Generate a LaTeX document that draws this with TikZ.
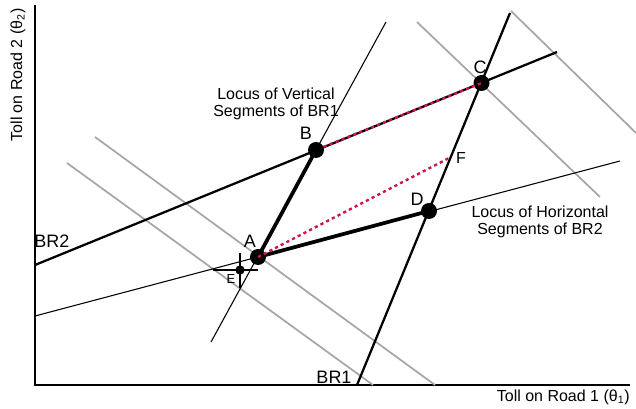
\documentclass[tikz,border=0pt]{standalone}
\usepackage{fontspec}
\setmainfont{Liberation Sans}
\usetikzlibrary{calc,positioning}
\definecolor{brgray}{HTML}{A6A6A6}
\definecolor{brred}{HTML}{D2144A}

\begin{document}
\begin{tikzpicture}[x=0.75pt,y=-0.75pt,
    dot/.style={circle,fill=black,inner sep=0pt,minimum size=12pt},
    smalldot/.style={circle,fill=black,inner sep=0pt,minimum size=7pt},
    ptlbl/.style={inner sep=0pt,font=\fontsize{13.5}{15}\selectfont},
    txt/.style={inner sep=0pt,align=center,font=\fontsize{12}{13}\selectfont},
    brline/.style={line width=1.7pt},
    locus/.style={line width=0.8pt},
    iso/.style={brgray,line width=1.3pt},
    gap/.style={brred,line width=1.8pt,dash pattern=on 2.4pt off 2.4pt}]
  \useasboundingbox (0,0) rectangle (636,409);

  % axes
  \coordinate (O) at (35,385);
  \coordinate (ytop) at (35,5);
  \coordinate (xend) at (630,385);
  \draw[line width=1pt] (ytop) -- (O) -- (xend);
  \node[txt, anchor=east] (xlab) at (630,397) {Toll on Road 1 (θ\textsubscript{1})};
  \node[txt, rotate=90] (ylab) at (18,75) {Toll on Road 2 (θ\textsubscript{2})};

  % iso lines
  \draw[iso] (67,163) -- (373,385);
  \draw[iso] (95,137) -- (435,385);
  \draw[iso] (417,22) -- (600,197);
  \draw[iso] (511,11) -- (636,133);

  % loci
  \coordinate (vl1) at (211,342);
  \coordinate (vl2) at (386,22);
  \coordinate (hl1) at (35,316);
  \coordinate (hl2) at (620,161);
  \draw[locus] (vl1) -- (vl2);
  \draw[locus] (hl1) -- (hl2);

  % best responses
  \coordinate (br1a) at (357,385);
  \coordinate (br1b) at (510,13);
  \coordinate (br2a) at (35,265);
  \coordinate (br2b) at (557,52);
  \draw[brline] (br1a) -- (br1b);
  \draw[brline] (br2a) -- (br2b);

  % points
  \node[dot] (A) at (258,257) {};
  \node[dot] (B) at (316,150) {};
  \node[dot] (C) at (481.5,83) {};
  \node[dot] (D) at (429,211) {};
  \coordinate (F) at (451,157);
  \node[smalldot] (E) at (240,270) {};

  \draw[line width=2.8pt] (A.center) -- (B.center);
  \draw[line width=2.8pt] (A.center) -- (D.center);

  % cross at E
  \draw[locus] (213,270) -- (258,270);
  \draw[locus] (240,253) -- (240,288);

  % gaps
  \draw[gap] (B) -- (C.center);
  \draw[gap] (A.center) -- (F);

  % labels
  \node[ptlbl] (Alab) at (250,241) {A};
  \node[ptlbl] (Blab) at (306,133) {B};
  \node[ptlbl] (Clab) at (480,67) {C};
  \node[ptlbl] (Dlab) at (417,199) {D};
  \node[txt] (Flab) at (461,158) {F};
  \node[inner sep=0pt,font=\fontsize{9.75}{11}\selectfont] (Elab) at (231,279) {E};
  \node[ptlbl] (br2lab) at (52,241) {BR2};
  \node[ptlbl] (br1lab) at (334,377) {BR1};
  \node[txt] (vlab) at (276,104) {Locus of Vertical\\Segments of BR1};
  \node[txt] (hlab) at (540,222) {Locus of Horizontal\\Segments of BR2};
\end{tikzpicture}
\end{document}
